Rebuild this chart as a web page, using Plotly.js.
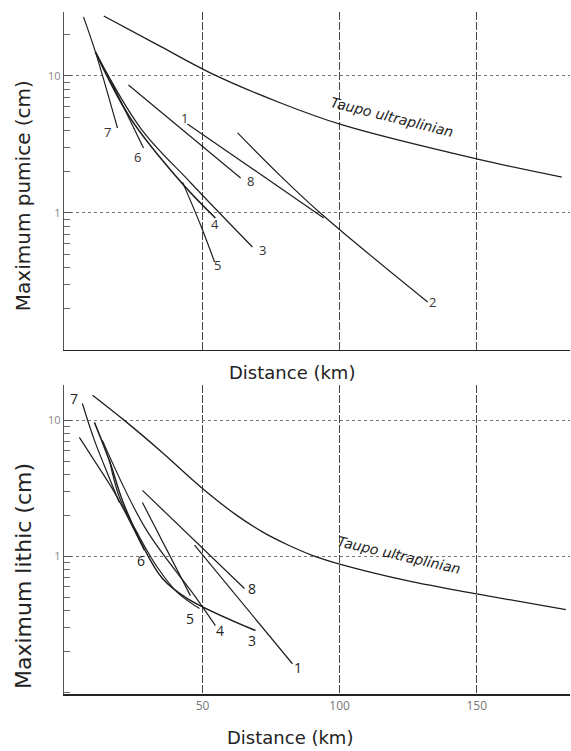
<!DOCTYPE html>
<html>
<head>
<meta charset="utf-8">
<script src="https://cdn.plot.ly/plotly-3.0.1.min.js"></script>
<style>
  html, body { margin: 0; padding: 0; background: #fff; }
  #chart { width: 571px; height: 751px; }
</style>
</head>
<body>
<div id="chart"></div>
<script>
// ---------- Top panel: maximum pumice (cm) vs distance (km) ----------
const taupoPumiceX = [14, 35, 53, 78.5, 101, 150, 181];
const taupoPumiceY = [27.4, 16.3, 10.5, 6.35, 4.39, 2.48, 1.83];
const pumice1X = [44.5, 94.2];
const pumice1Y = [4.47, 0.92];
const pumice2X = [62.8, 78.5, 94.2, 132.1];
const pumice2Y = [3.84, 1.86, 0.95, 0.224];
const pumice3X = [10.95, 27.4, 45.6, 68.2];
const pumice3Y = [15.0, 4.17, 1.67, 0.565];
const pumice4X = [10.95, 23.7, 43.1, 54.7];
const pumice4Y = [15.0, 4.93, 1.60, 0.92];
const pumice5X = [42.7, 49.3, 54.4];
const pumice5Y = [1.68, 0.817, 0.439];
const pumice6X = [16.4, 28.5];
const pumice6Y = [9.35, 2.98];
const pumice7X = [6.6, 10.95, 19.0];
const pumice7Y = [27.0, 15.0, 4.17];
const pumice8X = [23.0, 63.9];
const pumice8Y = [8.6, 1.80];

// ---------- Bottom panel: maximum lithic (cm) vs distance (km) ----------
const taupoLithicX = [9.9, 21.5, 35, 50, 62, 72, 81, 90, 100.7, 125, 150, 182.5];
const taupoLithicY = [15.3, 10.0, 5.89, 3.16, 2.04, 1.51, 1.22, 1.02, 0.871, 0.661, 0.531, 0.407];
const lithic1X = [47.1, 82.8];
const lithic1Y = [1.21, 0.163];
const lithic2X = [28.1, 45.6];
const lithic2Y = [2.49, 0.516];
const lithic3X = [10.6, 16.4, 20.8, 28.1, 35.4, 44.5, 69.3];
const lithic3Y = [9.67, 4.83, 2.58, 1.21, 0.689, 0.491, 0.286];
const lithic4X = [13.5, 29.2, 47.1, 54.7];
const lithic4Y = [7.13, 1.61, 0.516, 0.311];
const lithic5X = [16.1, 19.7, 26.3, 33.6, 40.9, 48.9];
const lithic5Y = [5.08, 2.72, 1.48, 0.83, 0.543, 0.415];
const lithic6X = [5.1, 11.7, 17.9, 28.8];
const lithic6Y = [7.5, 4.67, 2.96, 1.11];
const lithic7X = [6.2, 10.6, 16.4, 19.7];
const lithic7Y = [13.3, 7.13, 3.62, 2.49];
const lithic8X = [28.1, 65.3];
const lithic8Y = [3.06, 0.582];

// ---------- Label texts and positions (data units; y in log10) ----------
const curveLabel = "Taupo ultraplinian";
const pumiceLabels = ["1", "2", "3", "4", "5", "6", "7", "8"];
const pumiceLabelX = [43.4, 134, 71.9, 54.6, 55.5, 26.3, 15.3, 67.5];
const pumiceLabelLogY = [0.693, -0.65, -0.27, -0.08, -0.38, 0.409, 0.591, 0.234];
const lithicLabels = ["1", "3", "4", "5", "6", "7", "8"];
const lithicLabelX = [85, 68.2, 56.2, 45.6, 27.4, 3.3, 68.2];
const lithicLabelLogY = [-0.816, -0.618, -0.544, -0.456, -0.029, 1.162, -0.235];

const xTickVals = [50, 100, 150];
const yTickVals = [1, 10];

const INK = "#1e1e1e";
function curve(x, y, xa, ya, name, w) {
  return {
    x: x, y: y, xaxis: xa, yaxis: ya, name: name,
    type: "scatter", mode: "lines",
    line: { color: INK, width: w || 1.2, shape: "spline", smoothing: 1 },
    hoverinfo: "skip", showlegend: false
  };
}

const traces = [
  curve(taupoPumiceX, taupoPumiceY, "x", "y", "Taupo ultraplinian (pumice)", 1.3),
  curve(pumice1X, pumice1Y, "x", "y", "1"),
  curve(pumice2X, pumice2Y, "x", "y", "2"),
  curve(pumice3X, pumice3Y, "x", "y", "3"),
  curve(pumice4X, pumice4Y, "x", "y", "4", 1.6),
  curve(pumice5X, pumice5Y, "x", "y", "5"),
  curve(pumice6X, pumice6Y, "x", "y", "6"),
  curve(pumice7X, pumice7Y, "x", "y", "7"),
  curve(pumice8X, pumice8Y, "x", "y", "8"),
  curve(taupoLithicX, taupoLithicY, "x2", "y2", "Taupo ultraplinian (lithic)", 1.3),
  curve(lithic1X, lithic1Y, "x2", "y2", "1"),
  curve(lithic2X, lithic2Y, "x2", "y2", "2"),
  curve(lithic3X, lithic3Y, "x2", "y2", "3", 1.5),
  curve(lithic4X, lithic4Y, "x2", "y2", "4"),
  curve(lithic5X, lithic5Y, "x2", "y2", "5"),
  curve(lithic6X, lithic6Y, "x2", "y2", "6"),
  curve(lithic7X, lithic7Y, "x2", "y2", "7"),
  curve(lithic8X, lithic8Y, "x2", "y2", "8")
];

const FONT = "Open Sans, DejaVu Sans, sans-serif";
const TFONT = "DejaVu Sans, Open Sans, sans-serif";
const annotations = [];
pumiceLabels.forEach((t, i) => annotations.push({
  text: t, x: pumiceLabelX[i], y: pumiceLabelLogY[i], xref: "x", yref: "y",
  showarrow: false, font: { family: FONT, size: 13, color: "#333" }
}));
lithicLabels.forEach((t, i) => annotations.push({
  text: t, x: lithicLabelX[i], y: lithicLabelLogY[i], xref: "x2", yref: "y2",
  showarrow: false, font: { family: FONT, size: 14, color: "#222" }
}));
annotations.push({
  text: "<i>" + curveLabel + "</i>", x: 119, y: 0.70, xref: "x", yref: "y",
  showarrow: false, textangle: 14, font: { family: TFONT, size: 14, color: "#222" }
});
annotations.push({
  text: "<i>" + curveLabel + "</i>", x: 121.5, y: 0.01, xref: "x2", yref: "y2",
  showarrow: false, textangle: 13, font: { family: TFONT, size: 14, color: "#222" }
});
// axis titles
function title(text, x, y, angle, size) {
  return { text: text, x: x, y: y, xref: "paper", yref: "paper",
    xanchor: "center", yanchor: "middle", showarrow: false, textangle: angle || 0,
    font: { family: TFONT, size: size || 19, color: "#222" } };
}
annotations.push(title("Distance (km)", 0.451, 0.472, 0, 18));
annotations.push(title("Distance (km)", 0.447, -0.0645, 0, 18));
annotations.push(title("Maximum pumice (cm)", -0.081, 0.730, -90, 20));
annotations.push(title("Maximum lithic (cm)", -0.081, 0.173, -90, 22));

function xAxis(anchor, showLabels) {
  return {
    anchor: anchor, domain: [0, 1], range: [-0.5, 184],
    tickvals: xTickVals, showticklabels: showLabels, ticks: "",
    tickfont: { family: FONT, size: 12, color: "#777" },
    showgrid: true, gridcolor: "#444", gridwidth: 1, griddash: "8px,2px",
    showline: true, linecolor: "#222", linewidth: 1.5,
    zeroline: false, fixedrange: true
  };
}
function yAxis(anchor, domain, range) {
  return {
    anchor: anchor, domain: domain, type: "log", range: range,
    tickvals: yTickVals, ticktext: ["1", "10"], ticks: "inside", ticklen: 8,
    tickcolor: "#555", tickfont: { family: FONT, size: 11, color: "#888" },
    minor: { dtick: "D1", ticks: "inside", ticklen: 6, tickcolor: "#666", showgrid: false },
    showgrid: true, gridcolor: "#777", gridwidth: 1, griddash: "dot",
    showline: true, linecolor: "#555", linewidth: 1.2,
    zeroline: false, fixedrange: true
  };
}

const layout = {
  width: 571, height: 751,
  margin: { l: 64, r: 1, t: 12, b: 57 },
  paper_bgcolor: "#fff", plot_bgcolor: "#fff",
  showlegend: false,
  xaxis: xAxis("y", false),
  yaxis: yAxis("x", [0.5044, 1], [-1, 1.467]),
  xaxis2: xAxis("y2", true),
  yaxis2: yAxis("x2", [0, 0.4531], [-1.01, 1.26]),
  annotations: annotations
};

Plotly.newPlot("chart", traces, layout, { staticPlot: true, displayModeBar: false });
</script>
</body>
</html>
